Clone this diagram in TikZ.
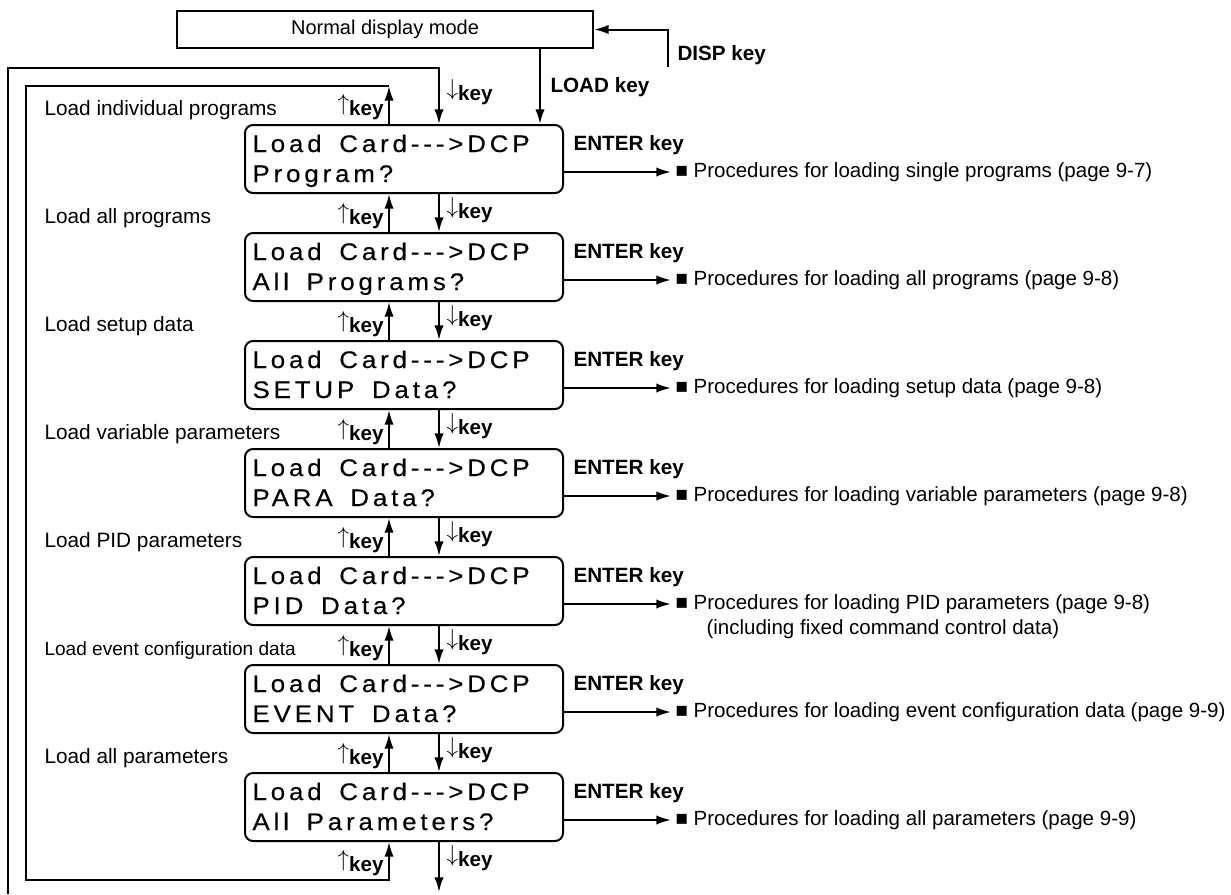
\documentclass[tikz,border=0pt]{standalone}
\usepackage{graphicx}
\usepackage{fontspec}
\setmainfont{Liberation Sans}
\newfontfamily\lcdfont[LetterSpace=16, WordSpace=1.6, FakeStretch=1.08, FakeBold=0.3]{Liberation Sans}
\usetikzlibrary{arrows.meta}

\newcommand\upk{\raisebox{0.2em}{\scalebox{1.2}{$\uparrow$}}key}
\newcommand\dnk{\raisebox{0.2em}{\scalebox{1.2}{$\downarrow$}}key}

\tikzset{every picture/.style={line width=0.75pt},
  arr/.style={line width=1.5, -{Latex[length=11pt,width=7pt]}},
  lcdbox/.style={draw, line width=1.5, rounded corners=6pt, minimum width=238.5pt, minimum height=51pt, inner sep=0pt},
  lcdtext/.style={anchor=base west, inner sep=0pt, font=\lcdfont\fontsize{18}{20}\selectfont},
  menulab/.style={anchor=base west, inner sep=0pt, font=\fontsize{15.6}{18}\selectfont},
  keylab/.style={inner sep=0pt, font=\bfseries\fontsize{15.5}{18}\selectfont},
  proc/.style={anchor=west, inner xsep=3pt, inner ysep=0pt, font=\fontsize{15.4}{18}\selectfont}}

\begin{document}
\begin{tikzpicture}[x=0.75pt,y=0.75pt,yscale=-1,xscale=1]
\useasboundingbox (0,0) rectangle (1231,894);

%Lanes for the up and down keys
\coordinate (upx) at (389,0);
\coordinate (dnx) at (439,0);
\coordinate (ldx) at (540,0);

% Text Node
\node [draw, line width=1.5, minimum width=312pt, minimum height=27.75pt, inner sep=0pt, font=\fontsize{15}{18}\selectfont] (nm) at (385,29.5) {Normal display mode};

% Display boxes
\node [lcdbox] (b1) at (404,159) {};
\node [lcdbox] (b2) at (404,267) {};
\node [lcdbox] (b3) at (404,375) {};
\node [lcdbox] (b4) at (404,483) {};
\node [lcdbox] (b5) at (404,591) {};
\node [lcdbox] (b6) at (404,699) {};
\node [lcdbox] (b7) at (404,807) {};

% Display texts
\node [lcdtext] (t1a) at (252,152) {Load Card--->DCP};
\node [lcdtext] (t1b) at (252,182) {Program?};
\node [lcdtext] (t2a) at (252,260) {Load Card--->DCP};
\node [lcdtext] (t2b) at (252,290) {All Programs?};
\node [lcdtext] (t3a) at (252,368) {Load Card--->DCP};
\node [lcdtext] (t3b) at (252,398) {SETUP Data?};
\node [lcdtext] (t4a) at (252,476) {Load Card--->DCP};
\node [lcdtext] (t4b) at (252,506) {PARA Data?};
\node [lcdtext] (t5a) at (252,584) {Load Card--->DCP};
\node [lcdtext] (t5b) at (252,614) {PID Data?};
\node [lcdtext] (t6a) at (252,692) {Load Card--->DCP};
\node [lcdtext] (t6b) at (252,722) {EVENT Data?};
\node [lcdtext] (t7a) at (252,800) {Load Card--->DCP};
\node [lcdtext] (t7b) at (252,830) {All Parameters?};

%DISP key
\coordinate (disp) at (668,67);
\draw [arr] (disp) |- (nm.east);
\node [keylab, anchor=west] (dk) at (677,55) {DISP key};

%LOAD key
\draw [arr] (nm.south -| ldx) -- (b1.north -| ldx);
\node [keylab, anchor=west] (lk) at (550,87) {LOAD key};

%Outer loop (down key from the last box)
\coordinate (obot) at (8,894);
\coordinate (otop) at (439,68);
\draw [arr] (obot) |- (otop) -- (b1.north -| dnx);
\coordinate (dend) at (439,892);
\draw [arr] (b7.south -| dnx) -- (dend);

%Inner loop (up key from the first box)
\coordinate (itop) at (389,86);
\coordinate (ibot) at (26,880);
\draw [arr] (b1.north -| upx) -- (itop);
\draw [arr] (itop) -| (ibot) -| (b7.south -| upx);

%Up and down keys between the boxes
\draw [arr] (b2.north -| upx) -- (b1.south -| upx);
\draw [arr] (b1.south -| dnx) -- (b2.north -| dnx);
\draw [arr] (b3.north -| upx) -- (b2.south -| upx);
\draw [arr] (b2.south -| dnx) -- (b3.north -| dnx);
\draw [arr] (b4.north -| upx) -- (b3.south -| upx);
\draw [arr] (b3.south -| dnx) -- (b4.north -| dnx);
\draw [arr] (b5.north -| upx) -- (b4.south -| upx);
\draw [arr] (b4.south -| dnx) -- (b5.north -| dnx);
\draw [arr] (b6.north -| upx) -- (b5.south -| upx);
\draw [arr] (b5.south -| dnx) -- (b6.north -| dnx);
\draw [arr] (b7.north -| upx) -- (b6.south -| upx);
\draw [arr] (b6.south -| dnx) -- (b7.north -| dnx);

% Key labels
\node [keylab, anchor=base east] (u1) at (384,115) {\upk};
\node [keylab, anchor=base west] (d1) at (446,100) {\dnk};
\node [keylab, anchor=base east] (u2) at (384,224) {\upk};
\node [keylab, anchor=base west] (d2) at (446,218) {\dnk};
\node [keylab, anchor=base east] (u3) at (384,332) {\upk};
\node [keylab, anchor=base west] (d3) at (446,326) {\dnk};
\node [keylab, anchor=base east] (u4) at (384,440) {\upk};
\node [keylab, anchor=base west] (d4) at (446,434) {\dnk};
\node [keylab, anchor=base east] (u5) at (384,548) {\upk};
\node [keylab, anchor=base west] (d5) at (446,542) {\dnk};
\node [keylab, anchor=base east] (u6) at (384,656) {\upk};
\node [keylab, anchor=base west] (d6) at (446,650) {\dnk};
\node [keylab, anchor=base east] (u7) at (384,764) {\upk};
\node [keylab, anchor=base west] (d7) at (446,758) {\dnk};
\node [keylab, anchor=base east] (u8) at (384,871) {\upk};
\node [keylab, anchor=base west] (d8) at (446,866) {\dnk};

% Menu labels
\node [menulab] (m1) at (44,115) {Load individual programs};
\node [menulab] (m2) at (44,223) {Load all programs};
\node [menulab] (m3) at (44,331) {Load setup data};
\node [menulab] (m4) at (44,439) {Load variable parameters};
\node [menulab] (m5) at (44,547) {Load PID parameters};
\node [menulab, font=\fontsize{14.3}{18}\selectfont] (m6) at (44,655) {Load event configuration data};
\node [menulab] (m7) at (44,763) {Load all parameters};

% ENTER key labels
\node [keylab, anchor=west] (e1) at (573,145) {ENTER key};
\node [keylab, anchor=west] (e2) at (573,253) {ENTER key};
\node [keylab, anchor=west] (e3) at (573,361) {ENTER key};
\node [keylab, anchor=west] (e4) at (573,469) {ENTER key};
\node [keylab, anchor=west] (e5) at (573,577) {ENTER key};
\node [keylab, anchor=west] (e6) at (573,685) {ENTER key};
\node [keylab, anchor=west] (e7) at (573,793) {ENTER key};

% Procedures
\node [proc] (p1) at (671,172) {■ Procedures for loading single programs (page 9-7)};
\node [proc] (p2) at (671,280) {■ Procedures for loading all programs (page 9-8)};
\node [proc] (p3) at (671,388) {■ Procedures for loading setup data (page 9-8)};
\node [proc] (p4) at (671,496) {■ Procedures for loading variable parameters (page 9-8)};
\node [proc] (p5) at (671,604) {■ Procedures for loading PID parameters (page 9-8)};
\node [proc] (p5b) at (702,629) {(including fixed command control data)};
\node [proc] (p6) at (671,712) {■ Procedures for loading event configuration data (page 9-9)};
\node [proc] (p7) at (671,820) {■ Procedures for loading all parameters (page 9-9)};

\draw [arr] (b1.east |- p1.west) -- (p1.west);
\draw [arr] (b2.east |- p2.west) -- (p2.west);
\draw [arr] (b3.east |- p3.west) -- (p3.west);
\draw [arr] (b4.east |- p4.west) -- (p4.west);
\draw [arr] (b5.east |- p5.west) -- (p5.west);
\draw [arr] (b6.east |- p6.west) -- (p6.west);
\draw [arr] (b7.east |- p7.west) -- (p7.west);

\end{tikzpicture}
\end{document}
